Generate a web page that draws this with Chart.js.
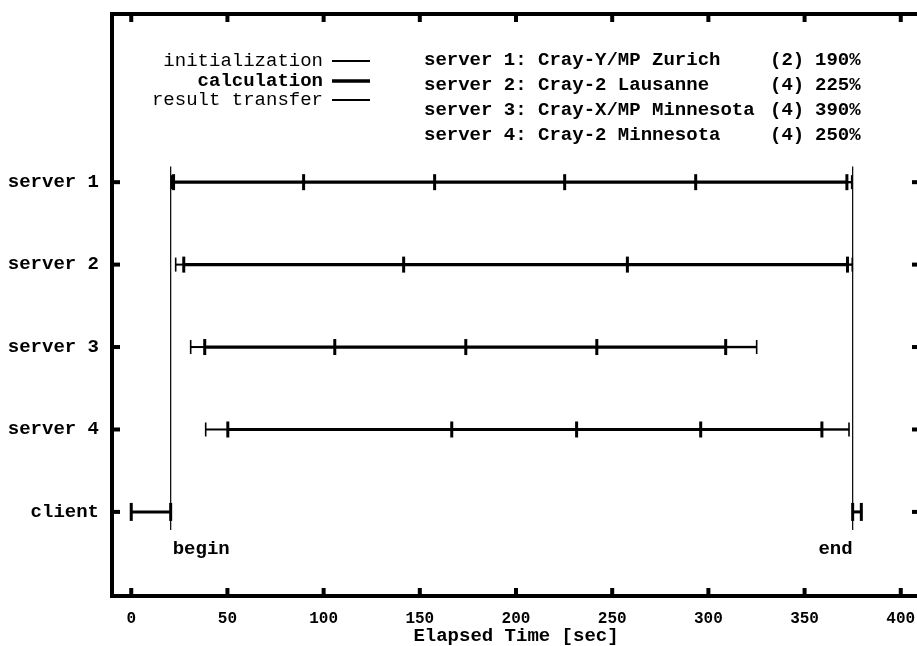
<!DOCTYPE html>
<html>
<head>
<meta charset="utf-8">
<script src="https://cdn.jsdelivr.net/npm/chart.js@4.4.1/dist/chart.umd.min.js"></script>
<style>
  html, body { margin: 0; padding: 0; background: #fff; overflow: hidden; }
</style>
</head>
<body>
<canvas id="timeline" width="925" height="646"></canvas>
<script>
/* Data */
const rowLabels = ['client', 'server 4', 'server 3', 'server 2', 'server 1'];
const xTicks = [0, 50, 100, 150, 200, 250, 300, 350, 400];
// rows of the servers on the y scale: server 1 .. server 4
const serverRows = [4, 3, 2, 1];
// phase boundaries in seconds, server 1 .. server 4
const initPhases = [[21, 22], [23.1, 27.3], [30.9, 38.2], [38.7, 50.2]];
const calcPhases = [
    [22, 89.6, 157.7, 225.3, 293.4, 372],
    [27.3, 141.6, 257.9, 372.3],
    [38.2, 105.8, 173.9, 242, 309],
    [50.2, 166.6, 231.5, 296, 359]
];
const transferPhases = [[372, 374.5], [372.3, 374.8], [309, 325.1], [359, 373.1]];
// client: send data, receive results
const clientPhases = [[0, 20.5], [375, 379.5]];
const beginTime = 20.5;
const endTime = 375;
const markerSpan = [-0.22, 4.19];
// legend block
const serverNames = ['server 1: Cray-Y/MP Zurich', 'server 2: Cray-2 Lausanne', 'server 3: Cray-X/MP Minnesota', 'server 4: Cray-2 Minnesota'];
const serverProcs = ['(2)', '(4)', '(4)', '(4)'];
const serverSpeedup = ['190%', '225%', '390%', '250%'];

const MONO = '"Liberation Mono", "DejaVu Sans Mono", monospace';

/* Functions */
// one line segment with vertical tick marks at every boundary
function phaseSet(times, row, lineWidth, tickRadius, tickWidth) {
    return {
        data: times.map((t) => ({x: t, y: row})),
        showLine: true,
        borderColor: '#000',
        borderWidth: lineWidth,
        borderCapStyle: 'butt',
        pointStyle: 'line',
        pointRotation: 90,
        pointRadius: tickRadius,
        pointBorderWidth: tickWidth,
        pointBorderColor: '#000',
        pointBackgroundColor: '#000'
    };
}

function markerSet(t) {
    return {
        data: markerSpan.map((y) => ({x: t, y: y})),
        showLine: true,
        borderColor: '#000',
        borderWidth: 1.2,
        pointRadius: 0
    };
}

let datasets = [];
serverRows.forEach((row, i) => {
    datasets.push(phaseSet(initPhases[i], row, 2, 7, 1.6));
    datasets.push(phaseSet(transferPhases[i], row, 2.4, 7, 1.6));
    datasets.push(phaseSet(calcPhases[i], row, 3.2, 8, 3));
});
clientPhases.forEach((p) => datasets.push(phaseSet(p, 0, 3, 9, 3)));
datasets.push(markerSet(beginTime));
datasets.push(markerSet(endTime));

// frame, inward ticks and the text blocks
const framePlugin = {
    id: 'frame',
    afterDraw(chart) {
        const {ctx, chartArea: a, scales} = chart;
        ctx.save();
        ctx.strokeStyle = '#000';
        ctx.fillStyle = '#000';
        ctx.lineWidth = 4;
        ctx.strokeRect(a.left, a.top, a.right - a.left, a.bottom - a.top);
        xTicks.forEach((v) => {
            const px = scales.x.getPixelForValue(v);
            ctx.fillRect(px - 2, a.bottom - 8, 4, 8);
            ctx.fillRect(px - 2, a.top, 4, 8);
        });
        rowLabels.forEach((l, i) => {
            const py = scales.y.getPixelForValue(i);
            ctx.fillRect(a.left, py - 2, 8, 4);
            ctx.fillRect(a.right - 8, py - 2, 8, 4);
        });

        ctx.textBaseline = 'middle';
        // phase legend
        const legendRows = [
            ['initialization', 'normal', 61, 2],
            ['calculation', 'bold', 81, 3.5],
            ['result transfer', 'normal', 100, 2]
        ];
        legendRows.forEach(([txt, weight, y, w]) => {
            ctx.font = weight + ' 19px ' + MONO;
            ctx.textAlign = 'right';
            ctx.fillText(txt, 323, y);
            ctx.lineWidth = w;
            ctx.beginPath();
            ctx.moveTo(332, y);
            ctx.lineTo(370, y);
            ctx.stroke();
        });
        // server legend
        ctx.font = 'bold 19px ' + MONO;
        ctx.textAlign = 'left';
        serverNames.forEach((n, i) => {
            const y = 60 + i * 25;
            ctx.fillText(n, 424, y);
            ctx.fillText(serverProcs[i], 770, y);
            ctx.fillText(serverSpeedup[i], 815, y);
        });
        // begin / end labels
        const labelY = scales.y.getPixelForValue(-0.45);
        ctx.textAlign = 'left';
        ctx.fillText('begin', scales.x.getPixelForValue(beginTime) + 2, labelY);
        ctx.textAlign = 'right';
        ctx.fillText('end', scales.x.getPixelForValue(endTime), labelY);
        ctx.restore();
    }
};

new Chart('timeline', {
    type: 'scatter',
    data: {datasets: datasets},
    options: {
        responsive: false,
        animation: false,
        devicePixelRatio: 1,
        layout: {autoPadding: false, padding: {top: 14, right: 5, left: 0, bottom: 0}},
        plugins: {legend: {display: false}, tooltip: {enabled: false}},
        scales: {
            x: {
                type: 'linear',
                min: -10,
                max: 410,
                afterBuildTicks: (s) => { s.ticks = xTicks.map((v) => ({value: v})); },
                afterFit: (s) => {
                    s.height = 50;
                    s.paddingLeft = 0;
                    s.paddingRight = 0;
                },
                grid: {display: false, drawTicks: false},
                border: {display: false},
                ticks: {color: '#000', padding: 13, font: {family: MONO, size: 16, weight: 'bold'}},
                title: {
                    display: true,
                    text: 'Elapsed Time [sec]',
                    color: '#000',
                    padding: {top: 0, bottom: 0},
                    font: {family: MONO, size: 19, weight: 'bold', lineHeight: 1}
                }
            },
            y: {
                type: 'linear',
                min: -1.02,
                max: 6.04,
                afterBuildTicks: (s) => { s.ticks = rowLabels.map((l, i) => ({value: i})); },
                afterFit: (s) => {
                    s.width = 112;
                    s.paddingTop = 0;
                    s.paddingBottom = 0;
                },
                grid: {display: false, drawTicks: false},
                border: {display: false},
                ticks: {
                    color: '#000',
                    padding: 13,
                    font: {family: MONO, size: 19, weight: 'bold'},
                    callback: (v) => rowLabels[v]
                }
            }
        }
    },
    plugins: [framePlugin]
});
</script>
</body>
</html>
